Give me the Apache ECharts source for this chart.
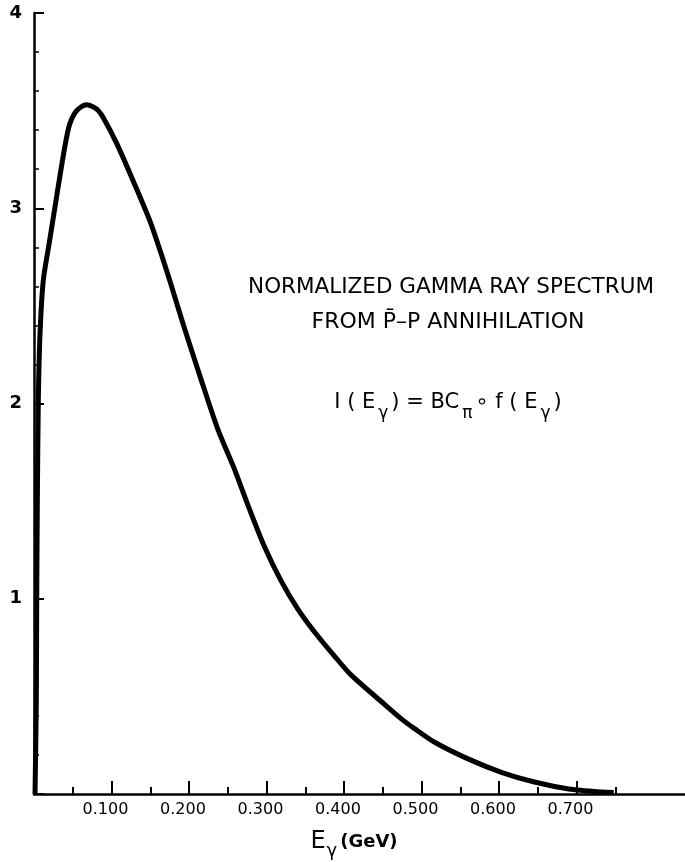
<!DOCTYPE html>
<html>
<head>
<meta charset="utf-8">
<script src="https://cdn.jsdelivr.net/npm/echarts@6/dist/echarts.min.js"></script>
<style>
html,body{margin:0;padding:0;background:#fff;}
#chart{width:685px;height:862px;}
</style>
</head>
<body>
<div id="chart"></div>
<script>
// Photon energy E_gamma (GeV)
const energy = [0.0013, 0.003, 0.0035, 0.0043, 0.0056, 0.0078, 0.012, 0.020, 0.030, 0.040, 0.046, 0.053, 0.061, 0.068, 0.076, 0.083, 0.090, 0.107, 0.128, 0.150, 0.172, 0.193, 0.215, 0.237, 0.258, 0.276, 0.297, 0.319, 0.340, 0.362, 0.388, 0.409, 0.452, 0.474, 0.491, 0.517, 0.560, 0.604, 0.647, 0.690, 0.733, 0.748];
// Normalized intensity I(E_gamma)
const intensity = [0, 0.48, 1.0, 1.5, 2.02, 2.36, 2.63, 2.83, 3.08, 3.32, 3.43, 3.49, 3.52, 3.53, 3.52, 3.50, 3.46, 3.33, 3.14, 2.93, 2.67, 2.40, 2.13, 1.87, 1.67, 1.48, 1.27, 1.09, 0.95, 0.83, 0.705, 0.61, 0.46, 0.385, 0.335, 0.265, 0.18, 0.11, 0.06, 0.026, 0.01, 0.008];
// Axis ticks and labels
const xLabelValues = [0.1, 0.2, 0.3, 0.4, 0.5, 0.6, 0.7];
const xMajorTicks = [0.1, 0.2, 0.3, 0.4, 0.5, 0.6, 0.7];
const xMinorTicks = [0.05, 0.15, 0.25, 0.35, 0.45, 0.55, 0.65, 0.75];
const yLabels = ['1', '2', '3', '4'];
const titleLines = ['NORMALIZED GAMMA RAY SPECTRUM', 'FROM P\u0304\u2013P ANNIHILATION'];

const seriesData = energy.map((e, i) => [e, intensity[i]]);
const FONT = '"DejaVu Sans", "Liberation Sans", sans-serif';

const chart = echarts.init(document.getElementById('chart'), null, {renderer: 'canvas'});
chart.setOption({
  backgroundColor: '#fff',
  animation: false,
  grid: {left: 34, right: 0, top: 13, bottom: 68, containLabel: false},
  xAxis: [
    {
      type: 'value', min: 0, max: 0.84, position: 'bottom',
      axisLine: {show: true, lineStyle: {color: '#000', width: 2.5}},
      axisTick: {show: true, inside: true, length: 13, customValues: xMajorTicks, lineStyle: {color: '#000', width: 2}},
      axisLabel: {
        show: true, customValues: xLabelValues, margin: 8,
        formatter: v => v.toFixed(3),
        padding: [0, 12, 0, 0],
        color: '#000', fontFamily: FONT, fontSize: 16
      },
      splitLine: {show: false}
    },
    {
      type: 'value', min: 0, max: 0.84, position: 'bottom', offset: 0,
      axisLine: {show: false},
      axisTick: {show: true, inside: true, length: 7, customValues: xMinorTicks, lineStyle: {color: '#000', width: 2}},
      axisLabel: {show: false},
      splitLine: {show: false}
    }
  ],
  yAxis: {
    type: 'value', min: 0, max: 4, interval: 1,
    axisLine: {show: true, lineStyle: {color: '#000', width: 2.5}},
    axisTick: {show: true, inside: true, length: 10, lineStyle: {color: '#000', width: 2}},
    minorTick: {show: true, splitNumber: 5, length: 5, lineStyle: {color: '#000', width: 1.5}},
    axisLabel: {
      margin: 12, color: '#000', fontFamily: FONT, fontSize: 18, fontWeight: 'bold',
      formatter: v => (v === 0 ? '' : yLabels[Math.round(v) - 1])
    },
    splitLine: {show: false}
  },
  graphic: [
    {
      type: 'text', x: 451, y: 287,
      style: {text: titleLines[0], font: '21.5px ' + FONT, fill: '#000', align: 'center', verticalAlign: 'middle'}
    },
    {
      type: 'text', x: 448, y: 322,
      style: {text: titleLines[1], font: '22px ' + FONT, fill: '#000', align: 'center', verticalAlign: 'middle'}
    },
    {
      type: 'text', x: 448, y: 403,
      style: {
        text: '{m|I ( E}{s|\u03b3}{m|) = BC}{s|\u03c0}{m|\u2218 f ( E}{s|\u03b3}{m|)}',
        align: 'center', verticalAlign: 'middle',
        rich: {
          m: {font: '21px ' + FONT, fill: '#000', lineHeight: 38, verticalAlign: 'middle'},
          s: {font: '17px ' + FONT, fill: '#000', lineHeight: 38, verticalAlign: 'bottom', padding: [0, 3, 0, 3]}
        }
      }
    },
    {
      type: 'text', x: 354, y: 842,
      style: {
        text: '{e|E}{g|\u03b3}{u|(GeV)}',
        align: 'center', verticalAlign: 'middle',
        rich: {
          e: {font: '24px ' + FONT, fill: '#000', lineHeight: 36, verticalAlign: 'middle'},
          g: {font: '18px ' + FONT, fill: '#000', lineHeight: 36, verticalAlign: 'bottom', padding: [0, 3, 0, 1]},
          u: {font: 'bold 18px ' + FONT, fill: '#000', lineHeight: 36, verticalAlign: 'middle'}
        }
      }
    }
  ],
  series: [{
    type: 'line',
    xAxisIndex: 0,
    data: seriesData,
    symbol: 'none',
    smooth: 0.25,
    clip: false,
    lineStyle: {color: '#000', width: 5}
  }]
});
</script>
</body>
</html>
